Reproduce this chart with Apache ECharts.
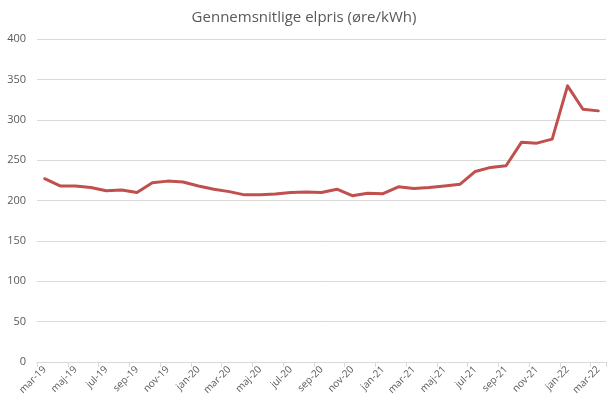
<!DOCTYPE html>
<html>
<head>
<meta charset="utf-8">
<script src="https://cdn.jsdelivr.net/npm/echarts@6/dist/echarts.min.js"></script>
<style>html,body{margin:0;padding:0;background:#fff;}#c{width:608px;height:404px;}</style>
</head>
<body>
<div id="c"></div>
<script>
var chartTitle = 'Gennemsnitlige elpris (øre/kWh)';
var categories = ['mar-19','apr-19','maj-19','jun-19','jul-19','aug-19','sep-19','okt-19','nov-19','dec-19',
  'jan-20','feb-20','mar-20','apr-20','maj-20','jun-20','jul-20','aug-20','sep-20','okt-20','nov-20','dec-20',
  'jan-21','feb-21','mar-21','apr-21','maj-21','jun-21','jul-21','aug-21','sep-21','okt-21','nov-21','dec-21',
  'jan-22','feb-22','mar-22'];
var prices = [227,218,218,216,212,213,210,222,224,223,
  218,214,211,207,207,208,210,210.5,210,214,206,209,
  208.5,217,215,216,218,220,236,241,243,272,271,276,
  342,313,311];
var yTicks = {min: 0, max: 400, interval: 50};

var chart = echarts.init(document.getElementById('c'));
chart.setOption({
  animation: false,
  backgroundColor: '#ffffff',
  title: {
    text: chartTitle, left: 'center', top: 5,
    textStyle: {fontFamily: 'Open Sans', fontSize: 15, fontWeight: 'normal', color: '#595959'}
  },
  grid: {left: 37, right: 2, top: 39, bottom: 42, containLabel: false},
  xAxis: {
    type: 'category', data: categories, boundaryGap: true,
    axisLine: {lineStyle: {color: '#d9d9d9', width: 1}},
    axisTick: {show: true, interval: 1, length: 5, lineStyle: {color: '#d9d9d9'}},
    axisLabel: {interval: 1, rotate: 45, fontFamily: 'Open Sans', fontSize: 10, color: '#595959', margin: 6}
  },
  yAxis: {
    type: 'value', min: yTicks.min, max: yTicks.max, interval: yTicks.interval,
    axisLine: {show: false}, axisTick: {show: false},
    splitLine: {lineStyle: {color: '#d9d9d9', width: 1}},
    axisLabel: {fontFamily: 'Open Sans', fontSize: 11, color: '#595959', margin: 11}
  },
  series: [{
    type: 'line', data: prices, symbol: 'none', smooth: false,
    lineStyle: {color: '#c0504d', width: 3, cap: 'round', join: 'round'}
  }]
});
</script>
</body>
</html>
